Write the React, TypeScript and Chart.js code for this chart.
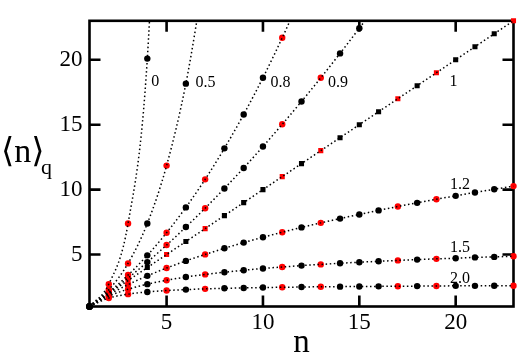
import React, { useEffect, useRef } from "react";
import { Chart, registerables } from "chart.js";

Chart.register(...registerables);

// n values (x axis)
const N = [1, 2, 3, 4, 5, 6, 7, 8, 9, 10, 11, 12, 13, 14, 15, 16, 17, 18, 19, 20, 21, 22, 23];

// <n>_q values, one list per q
const Q_0 = [1, 2.72, 7.39, 20.09, 54.6];
const Q_05 = [1, 2.29, 4.32, 7.39, 11.85, 18.16, 26.88];
const Q_08 = [1, 2.1, 3.42, 4.94, 6.68, 8.63, 10.79, 13.18, 15.79, 18.62, 21.69, 25.0];
const Q_09 = [1, 2.05, 3.19, 4.42, 5.73, 7.12, 8.57, 10.09, 11.67, 13.32, 15.03, 16.79, 18.61, 20.49, 22.43, 24.41];
const Q_1 = [1, 2, 3, 4, 5, 6, 7, 8, 9, 10, 11, 12, 13, 14, 15, 16, 17, 18, 19, 20, 21, 22, 23];
const Q_12 = [1, 1.91, 2.68, 3.36, 3.96, 4.51, 5.01, 5.48, 5.92, 6.33, 6.72, 7.09, 7.44, 7.77, 8.09, 8.4, 8.7, 8.98, 9.26, 9.52, 9.78, 10.03, 10.27];
const Q_15 = [1, 1.8, 2.33, 2.72, 3.02, 3.27, 3.47, 3.64, 3.79, 3.93, 4.04, 4.15, 4.24, 4.33, 4.41, 4.48, 4.55, 4.61, 4.67, 4.72, 4.78, 4.82, 4.87];
const Q_20 = [1, 1.65, 1.95, 2.12, 2.23, 2.3, 2.36, 2.4, 2.43, 2.46, 2.48, 2.5, 2.52, 2.53, 2.54, 2.55, 2.56, 2.57, 2.58, 2.59, 2.59, 2.6, 2.6];

// n values whose markers are red
const RED_N = [2, 3, 5, 7, 11, 13, 17, 19, 23];

const X_TICKS = [5, 10, 15, 20];
const Y_TICKS = [5, 10, 15, 20];

const CURVE_NAMES = ["0", "0.5", "0.8", "0.9", "1", "1.2", "1.5", "2.0"];
const CURVE_VALUES = [Q_0, Q_05, Q_08, Q_09, Q_1, Q_12, Q_15, Q_20];
const SQUARE_CURVE = "1";

// curve label anchors (data units)
const LABEL_N = [4.41, 7.02, 10.91, 13.89, 19.89, 20.23, 20.23, 20.22];
const LABEL_V = [18.3, 18.22, 18.2, 18.2, 18.3, 10.41, 5.55, 3.17];

const SERIF = '"Liberation Serif", "Nimbus Roman", "Times New Roman", Times, "DejaVu Serif", serif';

function pts(vals: number[]) {
  return vals.map((v, i) => ({ x: N[i], y: v }));
}

const framePlugin = {
  id: "frame",
  beforeDatasetsDraw(chart: any) {
    const { ctx, chartArea } = chart;
    const { left, right, top, bottom } = chartArea;
    const xs = chart.scales.x;
    const ys = chart.scales.y;
    ctx.save();
    ctx.strokeStyle = "#000";
    ctx.lineWidth = 2.6;
    ctx.strokeRect(left, top, right - left, bottom - top);
    const L = 11;
    ctx.beginPath();
    X_TICKS.forEach((v) => {
      const p = xs.getPixelForValue(v);
      ctx.moveTo(p, bottom);
      ctx.lineTo(p, bottom - L);
      ctx.moveTo(p, top);
      ctx.lineTo(p, top + L);
    });
    Y_TICKS.forEach((v) => {
      const p = ys.getPixelForValue(v);
      ctx.moveTo(left, p);
      ctx.lineTo(left + L, p);
      ctx.moveTo(right, p);
      ctx.lineTo(right - L, p);
    });
    ctx.stroke();
    ctx.restore();
  },
  afterDraw(chart: any) {
    const { ctx, chartArea } = chart;
    const xs = chart.scales.x;
    const ys = chart.scales.y;
    ctx.save();
    ctx.fillStyle = "#000";
    ctx.textAlign = "center";
    ctx.textBaseline = "middle";
    ctx.font = `16px ${SERIF}`;
    CURVE_NAMES.forEach((t, i) => {
      ctx.fillText(t, xs.getPixelForValue(LABEL_N[i]), ys.getPixelForValue(LABEL_V[i]));
    });
    // x axis title
    ctx.textBaseline = "alphabetic";
    ctx.font = `33px ${SERIF}`;
    ctx.fillText("n", (chartArea.left + chartArea.right) / 2, 352);
    // y axis title
    ctx.textAlign = "left";
    ctx.font = `34px ${SERIF}`;
    ctx.fillText("\u27E8n\u27E9", 1, 162);
    ctx.font = `22px ${SERIF}`;
    ctx.fillText("q", 41, 174);
    ctx.restore();
  },
};

export default function App() {
  const ref = useRef<HTMLCanvasElement | null>(null);
  useEffect(() => {
    if (!ref.current) return;
    const lineSets = CURVE_VALUES.map((vals, i) => ({
      label: "line " + CURVE_NAMES[i],
      data: pts(vals),
      borderColor: "#000",
      borderWidth: 1.5,
      borderDash: [1.5, 2.6],
      pointRadius: 0,
      fill: false,
      cubicInterpolationMode: "monotone" as const,
      clip: 0,
    }));
    const pointSets = CURVE_VALUES.map((vals, i) => {
      const square = CURVE_NAMES[i] === SQUARE_CURVE;
      return {
        label: "q " + CURVE_NAMES[i],
        data: pts(vals),
        showLine: false,
        pointStyle: vals.map((_, k) => (square && N[k] !== 1 ? "rect" : "circle")),
        pointRadius: vals.map((_, k) => (square && N[k] !== 1 ? 3.6 : 3.2)),
        pointBackgroundColor: vals.map((_, k) => (RED_N.includes(N[k]) ? "#ff0000" : "#000000")),
        pointBorderWidth: 0,
        borderColor: "rgba(0,0,0,0)",
        clip: { left: 8, right: 8, top: 8, bottom: 8 },
      };
    });
    const tickFont = { family: SERIF, size: 23 };
    const chart = new Chart(ref.current, {
      type: "line",
      data: { datasets: [...lineSets, ...pointSets] as any },
      options: {
        animation: false,
        responsive: false,
        devicePixelRatio: 1,
        layout: { padding: { left: 0, right: 4.5, top: 4, bottom: 0 } },
        plugins: { legend: { display: false }, tooltip: { enabled: false } },
        events: [],
        scales: {
          x: {
            type: "linear",
            min: 1,
            max: 23,
            grid: { display: false, drawTicks: false },
            border: { display: false },
            ticks: { font: tickFont, color: "#000", padding: 3, maxRotation: 0 },
            afterBuildTicks: (s: any) => {
              s.ticks = X_TICKS.map((v) => ({ value: v }));
            },
            afterFit: (s: any) => {
              s.height = 48.5;
            },
          },
          y: {
            type: "linear",
            min: 1,
            max: 23,
            grid: { display: false, drawTicks: false },
            border: { display: false },
            ticks: { font: tickFont, color: "#000", padding: 7 },
            afterBuildTicks: (s: any) => {
              s.ticks = Y_TICKS.map((v) => ({ value: v }));
            },
            afterFit: (s: any) => {
              s.width = 89.5;
            },
          },
        },
      },
      plugins: [framePlugin],
    });
    return () => chart.destroy();
  }, []);
  return (
    <div style={{ position: "fixed", left: 0, top: 0, width: 518, height: 355, background: "#fff" }}>
      <canvas ref={ref} width={518} height={355} style={{ display: "block", width: 518, height: 355 }} />
    </div>
  );
}
